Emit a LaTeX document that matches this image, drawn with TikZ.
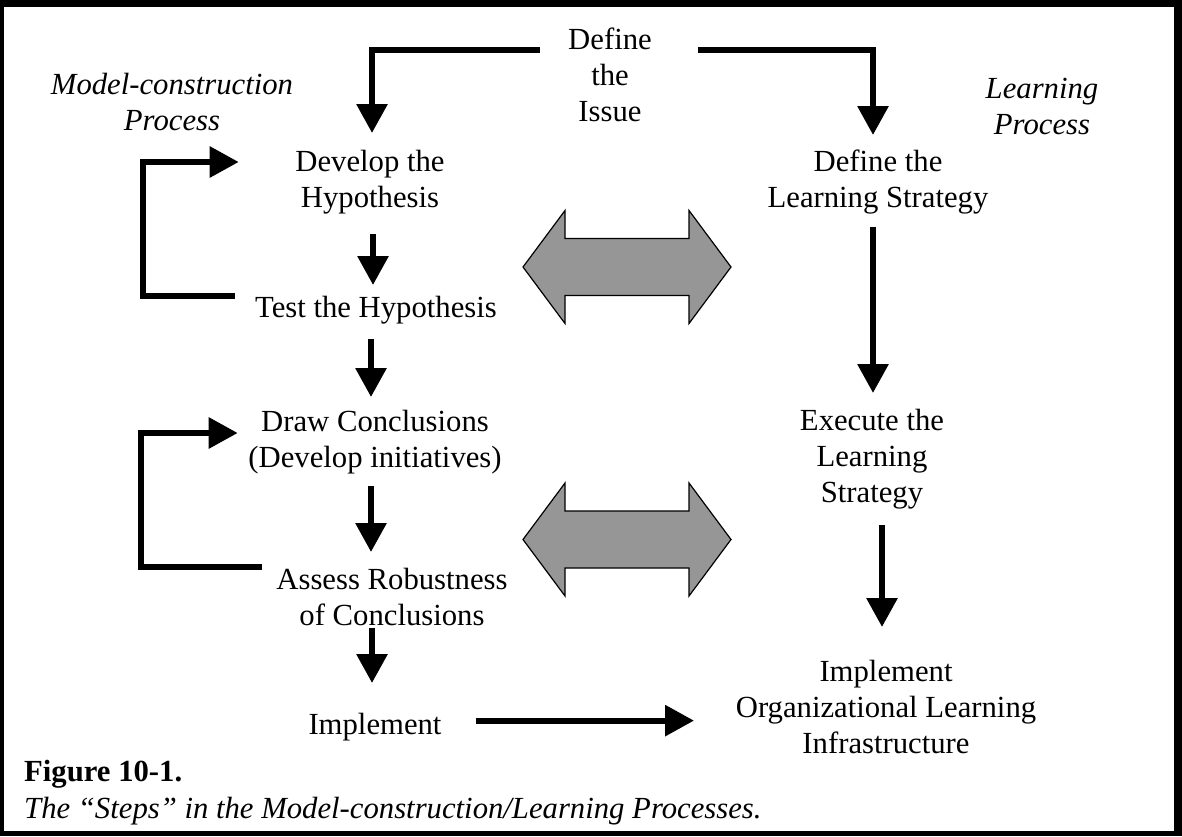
\documentclass[tikz,border=0pt]{standalone}
\usepackage{fontspec}
\setmainfont{Liberation Serif}
\usetikzlibrary{arrows.meta}
\definecolor{arrowgray}{RGB}{150,150,150}
\newcommand{\bodyfont}{\fontsize{30.7}{36}\selectfont}
\begin{document}
\begin{tikzpicture}[x=1pt,y=-1pt,font=\bodyfont,
		stepbox/.style={anchor=north,align=center,inner sep=0pt},
		processlabel/.style={stepbox,font=\bodyfont\itshape},
		flow/.style={line width=6pt,-{Triangle[width=30pt,length=29pt]}}]
	\useasboundingbox (0,0) rectangle (1182,836);
	\fill[black] (0,0) rectangle (1182,836);
	\fill[white] (4,7) rectangle (1174,831);
	\foreach \n/\x/\y/\t in {issue/610/27.5/{Define\\the\\Issue},
			hypo/370/149.5/{Develop the\\Hypothesis},
			test/376/295.5/{Test the Hypothesis},
			concl/375/409.5/{Draw Conclusions\\(Develop initiatives)},
			robust/392/567.5/{Assess Robustness\\of Conclusions},
			impl/375/713/{Implement},
			strat/878/149.5/{Define the\\Learning Strategy},
			exec/872/408.5/{Execute the\\Learning\\Strategy},
			infra/886/659.5/{Implement\\Organizational Learning\\Infrastructure}}{
		\node[stepbox] (\n) at (\x,\y) {\t};
	}
	\node[processlabel] (mcp) at (172,72.5) {Model-construction\\Process};
	\node[processlabel] (lp) at (1042,77.5) {Learning\\Process};
	\node[anchor=north west,inner sep=0pt,font=\bodyfont\bfseries] (fignum) at (24,760) {Figure 10-1.};
	\node[anchor=north west,inner sep=0pt,font=\bodyfont\itshape] (figcap) at (24,796.5) {The “Steps” in the Model-construction/Learning Processes.};
	\foreach \y in {267,539.5}{
		\begin{scope}[shift={(627,\y)}]
			\draw[fill=arrowgray,draw=black,line width=1.2pt] (-104,0) -- (-62,-56.5) -- (-62,-28.5) -- (62,-28.5) -- (62,-56.5) -- (104,0) -- (62,56.5) -- (62,28.5) -- (-62,28.5) -- (-62,56.5) -- cycle;
		\end{scope}
	}
	\draw[flow,shorten <=28.3pt,shorten >=16.5pt] ([yshift=-22.5pt]issue.north west) -| ([xshift=2pt]hypo.north);
	\draw[flow,shorten <=46.3pt,shorten >=14.5pt] ([yshift=-22.5pt]issue.north east) -| ([xshift=-5pt]strat.north);
	\draw[flow,shorten <=20.5pt,shorten >=10.5pt] ([xshift=3pt]hypo.south) -- ([xshift=3pt]hypo.south |- test.north);
	\draw[flow,shorten <=15.5pt,shorten >=12.5pt] ([xshift=-5pt]test.south) -- ([xshift=-5pt]test.south |- concl.north);
	\draw[flow,shorten <=12.5pt,shorten >=15.5pt] ([xshift=-4pt]concl.south) -- ([xshift=-4pt]concl.south |- robust.north);
	\draw[flow,shorten <=2pt,shorten >=30pt] ([xshift=-20pt]robust.south) -- ([xshift=-20pt]robust.south |- impl.north);
	\draw[flow,shorten <=12.5pt,shorten >=15.5pt] ([xshift=-5pt]strat.south) -- ([xshift=-5pt]strat.south |- exec.north);
	\draw[flow,shorten <=16.5pt,shorten >=32.5pt] ([xshift=10pt]exec.south) -- ([xshift=10pt]exec.south |- infra.north);
	\draw[flow,shorten <=34.5pt,shorten >=41.6pt] ([yshift=6.5pt]impl.east) -- ([yshift=6.5pt]impl.east -| infra.west);
	\draw[flow,shorten <=20pt,shorten >=56.5pt] ([yshift=14pt]test.west) -- ++(-112,0) |- ([yshift=-12.5pt]hypo.north west);
	\draw[flow,shorten <=14.5pt,shorten >=10.5pt] ([yshift=0.5pt]robust.north west) -- ++(-135.5,0) |- ([yshift=-23.5pt]concl.north west);
\end{tikzpicture}
\end{document}
